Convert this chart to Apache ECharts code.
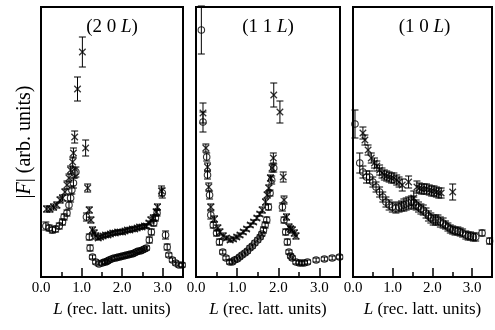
<!DOCTYPE html>
<html><head><meta charset="utf-8">
<script src="https://cdn.jsdelivr.net/npm/echarts@6/dist/echarts.min.js"></script>
<style>html,body{margin:0;padding:0;background:#fff}#c{width:495px;height:330px}</style>
</head><body><div id="c"></div>
<script>
// Each point: [L, |F| (arb.), error]
var p1Circles = [[0.12,51,4],[0.20,49,3],[0.28,47,3],[0.36,48,3],[0.45,51,3],[0.53,55,3],[0.57,60,3],[0.64,64,3],[0.69,72,4],[0.73,79,4],[0.76,87,4],[0.80,94,5],[0.83,104,5],[0.86,105,5],
 [1.12,60,4],[1.19,40,3],[1.21,29,3],[1.27,20,2],[1.35,15,2],[1.43,13,2],[1.51,14,2],[1.56,15,2],[1.60,15,2],[1.64,16,2],[1.68,17,2],[1.74,18,2],[1.80,19,2],[1.85,19,2],[1.90,20,2],[1.95,20,2],[2.00,21,2],[2.05,21,2],[2.10,22,2],[2.15,22,2],[2.20,23,2],[2.25,23,2],[2.30,24,2],[2.35,25,2],[2.40,26,2],[2.45,26,2],[2.50,27,2],[2.55,28,2],[2.60,29,2],
 [2.67,37,3],[2.72,45,3],[2.78,54,3],[2.82,59,3],[2.86,64,3],[2.99,84,5],[3.07,42,4],[3.11,30,3],[3.15,22,2],[3.24,17,2],[3.32,14,2],[3.40,12,2],[3.48,12,2]];
var p1Crosses = [[0.14,68,3],[0.22,68,3],[0.31,70,3],[0.39,72,3],[0.47,77,3],[0.53,79,3],[0.59,85,3],[0.64,92,4],[0.69,99,4],[0.73,107,4],[0.78,115,5],[0.80,124,5],[0.83,140,6],[0.90,188,12],[1.02,225,15],[1.10,129,8],[1.15,89,4],[1.19,67,3],[1.23,57,3],[1.27,47,3],[1.31,44,3],[1.35,41,3],
 [1.41,39,2],[1.47,40,2],[1.53,41,2],[1.59,42,2],[1.65,42,2],[1.71,43,2],[1.77,44,2],[1.83,44,2],[1.89,45,2],[1.95,45,2],[2.01,45,2],[2.07,46,2],[2.13,47,2],[2.19,47,2],[2.25,48,2],[2.31,48,2],[2.37,49,2],[2.43,50,2],[2.49,50,2],[2.55,51,2],[2.60,51,2],[2.66,54,2],[2.71,57,3],[2.77,59,3],[2.84,65,3],[2.87,70,3],[2.97,86,5]];
var p2Circles = [[0.13,247,24],[0.17,155,10],[0.26,120,4],[0.28,102,4],[0.33,82,4],[0.36,62,4],[0.42,52,3],[0.50,44,3],[0.57,35,3],[0.65,25,2],[0.73,19,2],[0.82,15,2],[0.88,15,2],[0.94,17,2],[1.00,18,2],[1.06,20,2],[1.12,22,2],[1.19,24,2],[1.25,26,2],[1.31,29,2],[1.37,31,2],[1.43,34,2],[1.50,37,2],[1.56,40,2],[1.60,43,2],[1.64,47,3],[1.68,52,3],[1.72,57,3],[1.76,70,3],[1.80,84,3],[1.84,97,4],[1.89,109,4],
 [2.10,70,4],[2.14,57,3],[2.18,45,3],[2.22,35,3],[2.26,25,2],[2.30,21,2],[2.34,19,2],[2.43,15,2],[2.51,14,2],[2.57,14,2],[2.63,14,2],[2.71,15,2],[2.92,17,2],[3.12,18,2],[3.31,19,2],[3.49,20,2]];
var p2Crosses = [[0.17,164,10],[0.24,129,4],[0.28,110,4],[0.31,90,4],[0.36,70,3],[0.45,58,3],[0.53,49,3],[0.58,45,3],[0.66,41,3],[0.74,39,2],[0.83,37,2],[0.91,38,2],[0.99,40,2],[1.07,42,2],[1.15,45,2],[1.23,48,2],[1.32,52,2],[1.40,55,2],[1.48,59,2],[1.55,63,2],[1.61,67,3],[1.69,75,3],[1.73,82,3],[1.77,89,3],[1.81,99,3],[1.85,109,4],[1.88,119,5],[1.89,182,12],[2.04,165,11],[2.12,100,5],[2.14,77,4],[2.20,60,3],[2.26,50,3],[2.30,48,3],[2.34,47,3],[2.39,44,3],[2.43,41,3]];
var p3Circles = [[0.05,153,14],[0.17,114,10],[0.25,105,6],[0.34,100,6],[0.42,100,6],[0.50,95,5],[0.58,90,5],[0.67,85,5],[0.75,80,5],[0.83,75,5],[0.91,72,5],[0.99,70,5],[1.08,69,5],[1.16,70,5],[1.22,71,5],[1.28,72,6],[1.34,73,6],[1.40,74,6],[1.47,75,6],[1.53,74,6],[1.59,72,5],[1.65,70,5],[1.71,68,5],[1.77,67,5],[1.84,64,5],[1.90,61,5],[1.96,59,5],[2.02,57,5],[2.08,57,5],[2.14,57,5],[2.20,55,5],[2.27,54,5],[2.33,52,4],[2.39,50,4],[2.45,48,4],[2.51,47,4],[2.57,46,4],[2.64,46,4],[2.70,45,4],[2.76,44,4],[2.84,42,4],[2.90,41,4],[2.96,41,4],[3.03,40,4],[3.09,40,4],[3.25,44,3],[3.44,36,3]];
var p3Crosses = [[0.25,144,6],[0.30,137,5],[0.38,127,5],[0.46,119,5],[0.54,114,5],[0.60,111,5],[0.67,107,5],[0.73,104,5],[0.79,102,5],[0.85,101,5],[0.91,100,5],[0.97,99,5],[1.03,99,5],[1.10,97,5],[1.16,95,5],[1.24,92,6],[1.40,95,6],[1.53,79,7],[1.61,90,6],[1.67,89,5],[1.73,88,5],[1.79,88,5],[1.85,88,5],[1.92,87,5],[1.98,86,5],[2.04,86,5],[2.10,85,5],[2.16,84,5],[2.22,84,5],[2.51,85,8]];
var panelTitles = ['(2 0 ', '(1 1 ', '(1 0 '];
var tickValues = [0, 1, 2, 3];

var FONT = 'Liberation Serif';
var grids = [{left:41,top:7,width:142,height:270},{left:196,top:7,width:144,height:270},{left:353,top:7,width:143,height:270}];
var panels = [[p1Circles,p1Crosses],[p2Circles,p2Crosses],[p3Circles,p3Crosses]];

var xAxes = [], yAxes = [], series = [], graphics = [];
grids.forEach(function(g, i){
  g.show = true; g.borderColor = '#000'; g.borderWidth = 2; g.containLabel = false;
  xAxes.push({gridIndex:i, type:'value', min:0, max:3.5, interval:1, position:'bottom',
    axisLine:{show:true, lineStyle:{color:'#000', width:2}},
    axisTick:{inside:true, length:9, lineStyle:{color:'#000', width:1.5}},
    axisLabel:{color:'#000', fontFamily:FONT, fontSize:15, margin:4,
      formatter:function(v){ return tickValues.indexOf(v) >= 0 ? v.toFixed(1) : ''; }},
    splitLine:{show:false},
    name:'{i|L} (rec. latt. units)', nameLocation:'middle', nameGap:18,
    nameTextStyle:{color:'#000', fontFamily:FONT, fontSize:17,
      rich:{i:{fontStyle:'italic', fontFamily:FONT, fontSize:17, color:'#000'}}}
  });
  xAxes.push({gridIndex:i, type:'value', min:0, max:3.5, interval:0.5, position:'bottom',
    axisLine:{show:false}, axisTick:{inside:true, length:5, lineStyle:{color:'#000', width:1.5}},
    axisLabel:{show:false}, splitLine:{show:false}});
  yAxes.push({gridIndex:i, type:'value', min:0, max:270, axisLine:{show:false}, axisTick:{show:false},
    axisLabel:{show:false}, splitLine:{show:false}});
  var pts = panels[i];
  [pts[0], pts[1]].forEach(function(arr){
    series.push({type:'custom', xAxisIndex:2*i, yAxisIndex:i, silent:true, z:2,
      data: arr.map(function(d){ return [d[0], d[1]-d[2], d[1]+d[2]]; }),
      encode:{x:0, y:[1,2]},
      renderItem:function(params, api){
        var x = api.value(0);
        var lo = api.coord([x, api.value(1)]);
        var hi = api.coord([x, api.value(2)]);
        var w = 3.5, st = {stroke:'#000', lineWidth:1};
        return {type:'group', children:[
          {type:'line', shape:{x1:lo[0],y1:lo[1],x2:hi[0],y2:hi[1]}, style:st},
          {type:'line', shape:{x1:lo[0]-w,y1:lo[1],x2:lo[0]+w,y2:lo[1]}, style:st},
          {type:'line', shape:{x1:hi[0]-w,y1:hi[1],x2:hi[0]+w,y2:hi[1]}, style:st}
        ]};
      }});
  });
  series.push({type:'scatter', xAxisIndex:2*i, yAxisIndex:i, z:3, symbol:'circle', symbolSize:6.5,
    data: pts[0].map(function(d){ return [d[0], d[1]]; }),
    itemStyle:{color:'rgba(0,0,0,0)', borderColor:'#000', borderWidth:1.1}});
  series.push({type:'scatter', xAxisIndex:2*i, yAxisIndex:i, z:3,
    symbol:'path://M0,0L10,10M10,0L0,10', symbolSize:6.5,
    data: pts[1].map(function(d){ return [d[0], d[1]]; }),
    itemStyle:{color:'rgba(0,0,0,0)', borderColor:'#000', borderWidth:1.3}});
  graphics.push({type:'text', x: g.left + g.width/2, y: 27,
    style:{text:'{n|' + panelTitles[i] + '}{i|L}{n|)}', align:'center', verticalAlign:'middle',
      rich:{n:{fontFamily:FONT, fontSize:19, fill:'#000'}, i:{fontFamily:FONT, fontSize:19, fontStyle:'italic', fill:'#000'}}}});
});
graphics.push({type:'text', x:25, y:142, rotation:Math.PI/2,
  style:{text:'{n||}{i|F}{n|| (arb. units)}', align:'center', verticalAlign:'middle',
    rich:{n:{fontFamily:FONT, fontSize:20, fill:'#000'}, i:{fontFamily:FONT, fontSize:20, fontStyle:'italic', fill:'#000'}}}});

var chart = echarts.init(document.getElementById('c'), null, {renderer:'canvas'});
chart.setOption({animation:false, backgroundColor:'#fff', grid:grids, xAxis:xAxes, yAxis:yAxes, series:series, graphic:graphics});
</script></body></html>
